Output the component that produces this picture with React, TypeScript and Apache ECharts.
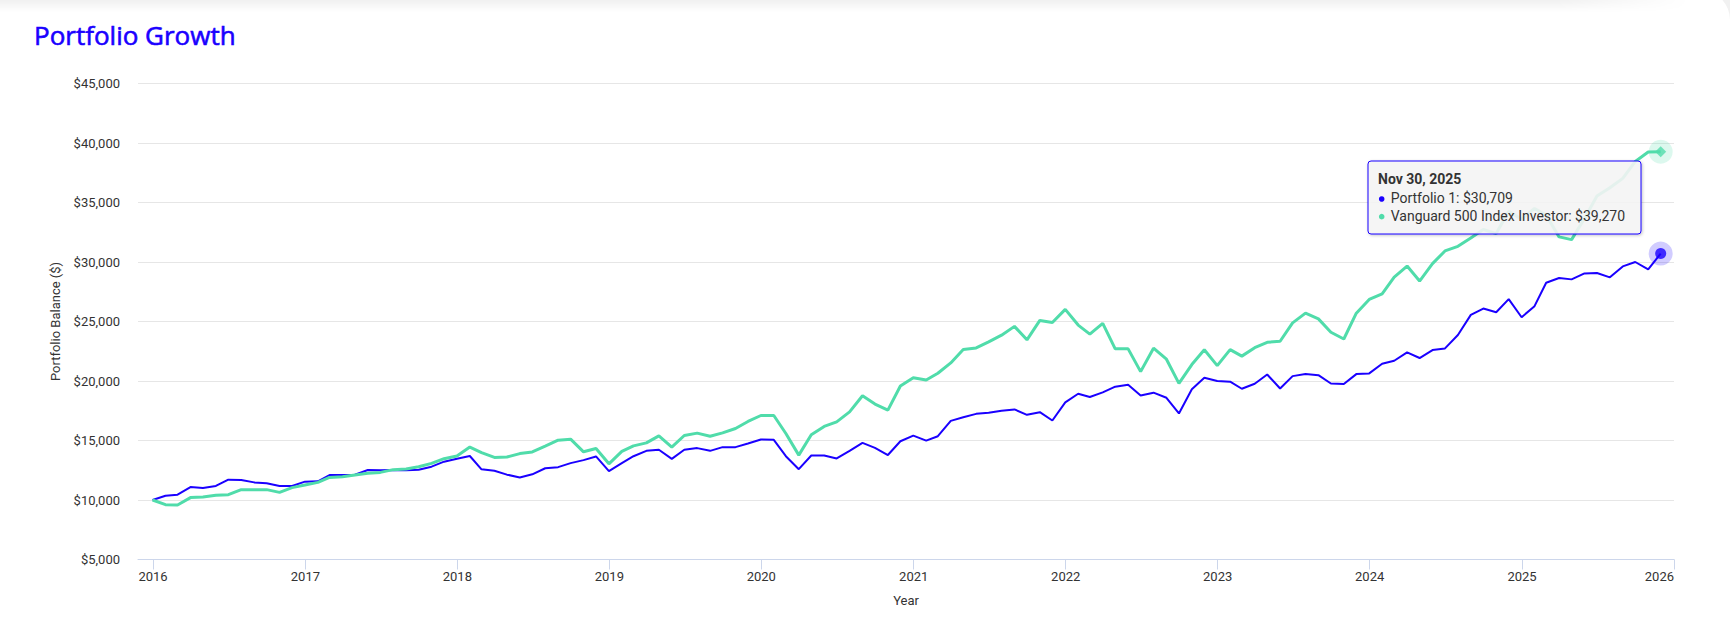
import React, { useEffect, useRef } from "react";
import * as echarts from "echarts";

// Month-end balances, index 0 = start (Dec 31, 2015), index 119 = Nov 30, 2025
const portfolio1: number[] = [
  10000, 10360, 10450, 11090, 11000, 11180, 11710, 11680, 11480, 11400, 11180, 11180,
  11540, 11570, 12100, 12100, 12130, 12520, 12490, 12520, 12490, 12550, 12800, 13220,
  13470, 13700, 12580, 12460, 12130, 11890, 12160, 12670, 12760, 13100, 13350, 13660,
  12420, 13100, 13680, 14130, 14220, 13460, 14220, 14360, 14130, 14440, 14440, 14750,
  15080, 15060, 13680, 12590, 13740, 13740, 13490, 14130, 14800, 14380, 13780, 14940,
  15410, 14990, 15360, 16650, 16960, 17240, 17330, 17500, 17610, 17160, 17380, 16680,
  18200, 18930, 18650, 19040, 19520, 19690, 18790, 19020, 18590, 17270, 19300, 20270,
  20000, 19940, 19350, 19770, 20550, 19370, 20410, 20580, 20490, 19790, 19740, 20580,
  20640, 21450, 21700, 22410, 21930, 22600, 22740, 23870, 25560, 26090, 25780, 26880,
  25360, 26290, 28260, 28650, 28540, 29040, 29070, 28710, 29630, 30000, 29380, 30709,
];

const vanguard500: number[] = [
  10000, 9610, 9580, 10200, 10250, 10390, 10450, 10870, 10870, 10870, 10640, 11040,
  11260, 11480, 11900, 11960, 12100, 12240, 12320, 12550, 12600, 12800, 13080, 13470,
  13700, 14450, 13980, 13580, 13610, 13900, 14040, 14520, 15030, 15110, 14050, 14330,
  13040, 14080, 14550, 14800, 15390, 14440, 15420, 15620, 15360, 15640, 16010, 16600,
  17100, 17100, 15590, 13770, 15480, 16180, 16570, 17410, 18760, 18060, 17550, 19580,
  20280, 20080, 20650, 21520, 22640, 22780, 23290, 23850, 24590, 23460, 25090, 24920,
  26020, 24700, 23940, 24840, 22700, 22700, 20790, 22760, 21830, 19800, 21380, 22620,
  21290, 22640, 22090, 22800, 23250, 23340, 24880, 25700, 25220, 24100, 23530, 25700,
  26850, 27330, 28730, 29660, 28400, 29860, 30930, 31320, 32020, 32730, 32390, 34270,
  33600, 34500, 33940, 32110, 31880, 33660, 35540, 36240, 37030, 38450, 39250, 39270,
];

const yearTicks: number[] = [2016, 2017, 2018, 2019, 2020, 2021, 2022, 2023, 2024, 2025, 2026];
const seriesNames = ["Portfolio 1", "Vanguard 500 Index Investor"];
const MONTHS = ["Jan", "Feb", "Mar", "Apr", "May", "Jun", "Jul", "Aug", "Sep", "Oct", "Nov", "Dec"];

const BLUE = "#1a00ff";
const GREEN = "#50dcaa";
const FONT = "Roboto, 'Noto Sans', sans-serif";

const monthEnd = (i: number) => new Date(2016, i, 0).getTime();
const money = (v: number) => "$" + Math.round(v).toLocaleString("en-US");
const fmtDate = (t: number) => {
  const d = new Date(t);
  return `${MONTHS[d.getMonth()]} ${d.getDate()}, ${d.getFullYear()}`;
};

export default function App() {
  const ref = useRef<HTMLDivElement>(null);

  useEffect(() => {
    if (!ref.current) return;
    const chart = echarts.init(ref.current, undefined, { renderer: "svg" });
    const p1 = portfolio1.map((v, i) => [monthEnd(i), v]);
    const vg = vanguard500.map((v, i) => [monthEnd(i), v]);
    const lastIdx = portfolio1.length - 1;
    const lastT = monthEnd(lastIdx);
    const lastP = portfolio1[lastIdx];
    const lastV = vanguard500[lastIdx];
    const tickVals = yearTicks.map((y) => new Date(y, 0, 1).getTime());
    const TZ = 100;

    chart.setOption({
      animation: false,
      backgroundColor: "transparent",
      textStyle: { fontFamily: FONT },
      title: {
        text: "Portfolio Growth",
        left: 29,
        top: 17,
        textStyle: {
          color: BLUE,
          fontSize: 26,
          fontWeight: 400,
          fontFamily: "'Open Sans', sans-serif",
          textBorderColor: BLUE,
          textBorderWidth: 0.6,
        },
      },
      grid: { left: 138, right: 56, top: 83.5, bottom: 60.5, containLabel: false, outerBoundsMode: "none" },
      xAxis: {
        type: "value",
        min: new Date(2015, 10, 26).getTime(),
        max: new Date(2026, 0, 1).getTime(),
        name: "Year",
        nameLocation: "middle",
        nameGap: 34,
        nameTextStyle: { color: "#333", fontSize: 13, fontFamily: FONT },
        axisLine: { show: true, lineStyle: { color: "#ccd6eb", width: 1 } },
        axisTick: { show: true, length: 10, lineStyle: { color: "#ccd6eb" }, customValues: tickVals },
        axisLabel: {
          color: "#333",
          fontSize: 13,
          fontFamily: FONT,
          margin: 10,
          customValues: tickVals,
          alignMaxLabel: "right",
          formatter: (v: number) => String(new Date(v).getFullYear()),
        },
        splitLine: { show: false },
      },
      yAxis: {
        type: "value",
        min: 5000,
        max: 45000,
        interval: 5000,
        name: "Portfolio Balance ($)",
        nameLocation: "middle",
        nameGap: 76,
        nameTextStyle: { color: "#333", fontSize: 13, fontFamily: FONT },
        axisLine: { show: false },
        axisTick: { show: false },
        axisLabel: { color: "#333", fontSize: 13, fontFamily: FONT, margin: 18, formatter: (v: number) => money(v) },
        splitLine: { lineStyle: { color: "#e6e6e6", width: 1 } },
      },
      series: [
        {
          name: seriesNames[0],
          type: "line",
          data: p1,
          showSymbol: false,
          lineStyle: { color: BLUE, width: 2 },
          itemStyle: { color: BLUE },
          z: 2,
        },
        {
          name: seriesNames[1],
          type: "line",
          data: vg,
          showSymbol: false,
          lineStyle: { color: GREEN, width: 3 },
          itemStyle: { color: GREEN },
          z: 3,
        },
        {
          type: "scatter",
          data: [[lastT, lastP]],
          symbol: "circle",
          symbolSize: 24,
          itemStyle: { color: "rgba(26,0,255,0.25)" },
          silent: true,
          z: 4,
        },
        {
          type: "scatter",
          data: [[lastT, lastP]],
          symbol: "circle",
          symbolSize: 11,
          itemStyle: { color: BLUE },
          silent: true,
          z: 5,
        },
        {
          type: "scatter",
          data: [[lastT, lastV]],
          symbol: "circle",
          symbolSize: 24,
          itemStyle: { color: "rgba(80,220,170,0.25)" },
          silent: true,
          z: 4,
        },
        {
          type: "scatter",
          data: [[lastT, lastV]],
          symbol: "diamond",
          symbolSize: 11,
          itemStyle: { color: GREEN },
          silent: true,
          z: 5,
        },
      ],
      graphic: [
        {
          type: "rect",
          z: TZ,
          shape: { x: 1368, y: 161, width: 273, height: 73, r: 3 },
          style: {
            fill: "rgba(247,247,247,0.88)",
            stroke: BLUE,
            lineWidth: 1,
            shadowBlur: 3,
            shadowOffsetX: 1,
            shadowOffsetY: 1,
            shadowColor: "rgba(0,0,0,0.25)",
          },
        },
        {
          type: "text",
          z: TZ + 1,
          style: { text: fmtDate(lastT), x: 1378, y: 179.3, verticalAlign: "middle", fill: "#333", font: `bold 14px ${FONT}` },
        },
        { type: "circle", z: TZ + 1, shape: { cx: 1381.7, cy: 199, r: 2.8 }, style: { fill: BLUE } },
        {
          type: "text",
          z: TZ + 1,
          style: { text: `${seriesNames[0]}: ${money(lastP)}`, x: 1390.7, y: 198.3, verticalAlign: "middle", fill: "#333", font: `14px ${FONT}` },
        },
        { type: "circle", z: TZ + 1, shape: { cx: 1381.7, cy: 216.7, r: 2.8 }, style: { fill: GREEN } },
        {
          type: "text",
          z: TZ + 1,
          style: { text: `${seriesNames[1]}: ${money(lastV)}`, x: 1390.7, y: 216, verticalAlign: "middle", fill: "#333", font: `14px ${FONT}` },
        },
      ],
    });
    return () => chart.dispose();
  }, []);

  return (
    <div style={{ position: "absolute", left: 0, top: 0, width: 1730, height: 620, background: "#f1f1f1", overflow: "hidden" }}>
      <div
        style={{
          position: "absolute",
          left: -40,
          top: -10,
          width: 1770,
          height: 700,
          borderRadius: 30,
          background: "#ffffff",
        }}
      />
      <div
        style={{
          position: "absolute",
          left: 0,
          top: 0,
          width: 1690,
          height: 12,
          background: "linear-gradient(to bottom, rgba(0,0,0,0.06), rgba(0,0,0,0))",
          WebkitMaskImage: "linear-gradient(to right, black 92%, transparent)",
        }}
      />
      <div ref={ref} style={{ position: "absolute", left: 0, top: 0, width: 1730, height: 620 }} />
    </div>
  );
}
